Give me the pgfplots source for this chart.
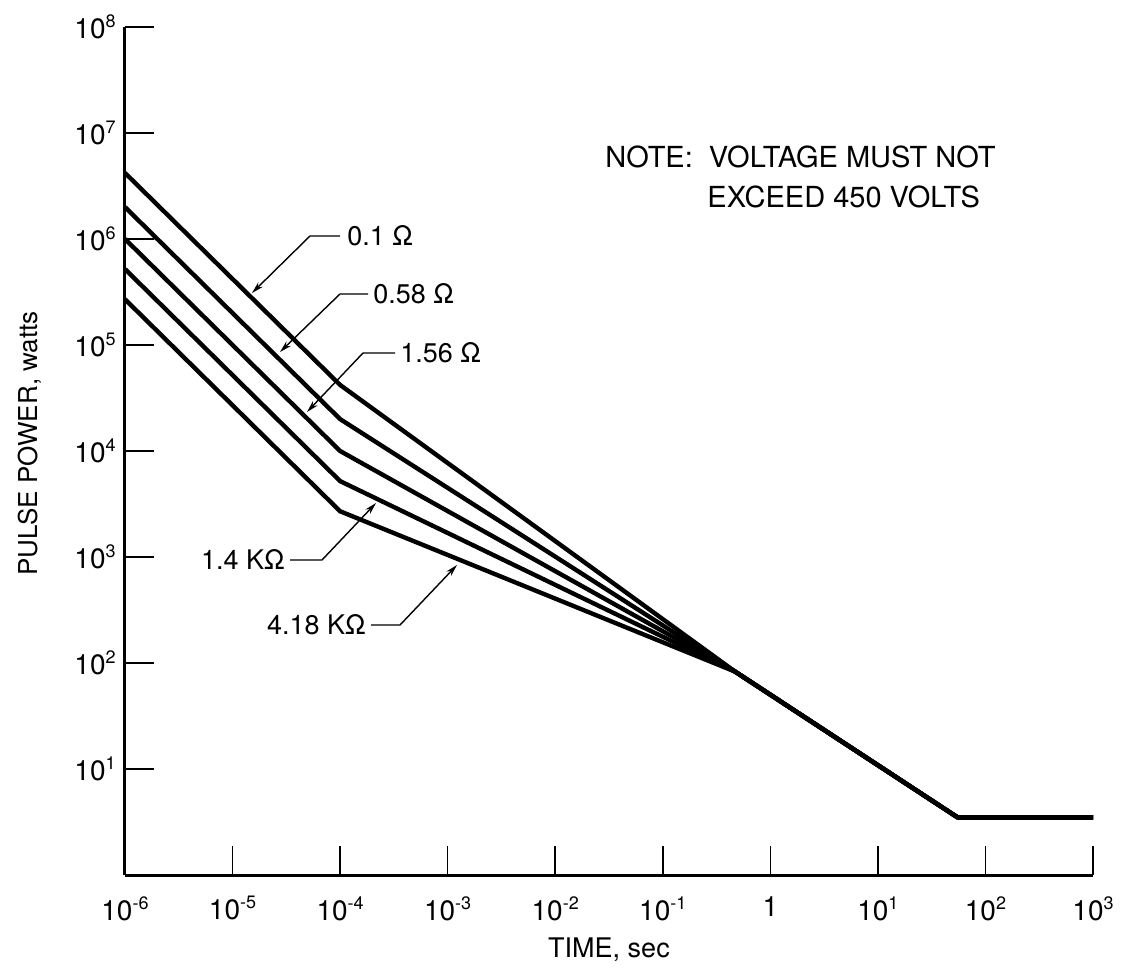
\documentclass[border=0pt]{standalone}
\usepackage{pgfplots}
\pgfplotsset{compat=1.18}
\usepackage{fontspec}
\setmainfont{TeX Gyre Heros}
\usetikzlibrary{arrows.meta}
\newcommand\ex[1]{\raisebox{5.5pt}{\fontsize{9}{10}\selectfont #1}}

\begin{document}
\begin{tikzpicture}
\begin{axis}[
  at={(0,0)}, anchor=south west,
  scale only axis, width=484pt, height=424pt,
  xmode=log, ymode=log,
  xmin=1e-6, xmax=1e3, ymin=1, ymax=1e8,
  axis lines=left,
  axis line style={-, line width=1.5pt},
  tick align=inside,
  major tick length=14.5pt,
  tick style={line width=0.8pt, black},
  xminorticks=false, yminorticks=false,
  xtick={1e-6,1e-5,1e-4,1e-3,1e-2,1e-1,1,1e1,1e2,1e3},
  xticklabels={10\ex{-6},10\ex{-5},10\ex{-4},10\ex{-3},10\ex{-2},10\ex{-1},1,10\ex{1},10\ex{2},10\ex{3}},
  ytick={1e1,1e2,1e3,1e4,1e5,1e6,1e7,1e8},
  yticklabels={10\ex{1},10\ex{2},10\ex{3},10\ex{4},10\ex{5},10\ex{6},10\ex{7},10\ex{8}},
  ticklabel style={font=\fontsize{14}{16}\selectfont},
  xticklabel style={anchor=north, inner sep=0pt, yshift=-10.5pt},
  yticklabel style={anchor=east, inner sep=0pt, xshift=-4.5pt},
  xlabel={TIME, sec},
  ylabel={PULSE POWER, watts},
  xlabel style={at={(axis description cs:0.5,-0.0967)}, anchor=base, inner sep=0pt, font=\fontsize{13.5}{16}\selectfont},
  ylabel style={at={(axis description cs:-0.0909,0.509)}, anchor=base, inner sep=0pt, font=\fontsize{13}{16}\selectfont},
  clip=false,
]
\pgfplotsset{curve/.style={black, line width=2.2pt, line join=round, mark=none}}
% 0.1 Ohm
\addplot[curve] coordinates {(1e-6,4.2e6) (1e-4,4.2e4) (0.47,83) (55,3.5) (1000,3.5)};
% 0.58 Ohm
\addplot[curve] coordinates {(1e-6,2.0e6) (1e-4,2.0e4) (0.47,83) (55,3.5) (1000,3.5)};
% 1.56 Ohm
\addplot[curve] coordinates {(1e-6,1.0e6) (1e-4,1.0e4) (0.47,83) (55,3.5) (1000,3.5)};
% 1.4 kOhm
\addplot[curve] coordinates {(1e-6,5.2e5) (1e-4,5.2e3) (0.47,83) (55,3.5) (1000,3.5)};
% 4.18 kOhm
\addplot[curve] coordinates {(1e-6,2.7e5) (1e-4,2.7e3) (0.47,83) (55,3.5) (1000,3.5)};
\end{axis}

\begin{scope}[shift={(-62.5pt,437.5pt)}, x=0.5pt, y=-0.5pt]
  \tikzset{lead/.style={line width=0.7pt, -{Stealth[length=6pt, width=3.2pt]}}}
  \tikzset{lab/.style={inner sep=0pt, font=\fontsize{13.5}{15}\selectfont}}
  % labels
  \node[lab, anchor=base west] at (347,245) {0.1 Ω};
  \draw[lead] (340,236) -- (310,236) -- (252,293);
  \node[lab, anchor=base west] at (373,303) {0.58 Ω};
  \draw[lead] (368,294) -- (340,294) -- (280,352);
  \node[lab, anchor=base west] at (400,362) {1.56 Ω};
  \draw[lead] (395,353) -- (363,353) -- (307,412);
  \node[lab, anchor=base east] at (285,569) {1.4 KΩ};
  \draw[lead] (290,560) -- (322,560) -- (376,503);
  \node[lab, anchor=base east] at (366,634) {4.18 KΩ};
  \draw[lead] (371,625) -- (400,625) -- (457,565);
  % note
  \node[inner sep=0pt, anchor=base west, font=\fontsize{14.5}{17}\selectfont] at (605,167) {NOTE:\ \ VOLTAGE MUST NOT};
  \node[inner sep=0pt, anchor=base west, font=\fontsize{14.5}{17}\selectfont] at (707,207) {EXCEED 450 VOLTS};
\end{scope}

\pgfresetboundingbox
\path (-62.5pt,-48pt) rectangle (501.5pt,437.5pt);
\end{tikzpicture}
\end{document}
